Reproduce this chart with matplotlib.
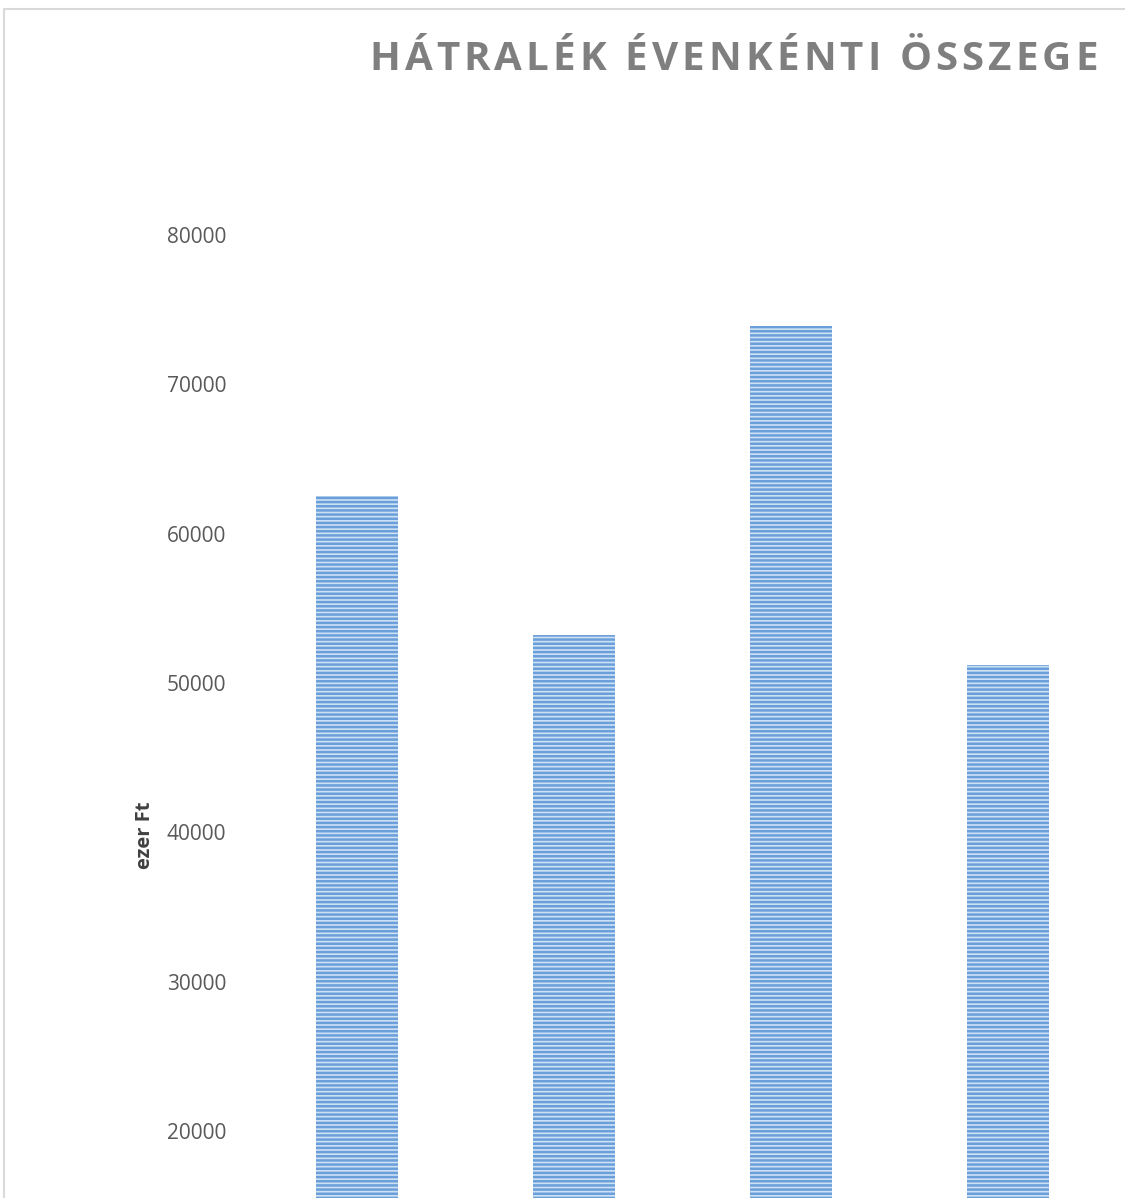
import numpy as np
import matplotlib
import matplotlib.pyplot as plt
from matplotlib.patches import Rectangle

# adatok (a kép alján levágott kategóriák)
kategoriak = ['1', '2', '3', '4']
hatralek = [62500, 53200, 73900, 51200]
y_tickek = [20000, 30000, 40000, 50000, 60000, 70000, 80000]
cim = 'HÁTRALÉK ÉVENKÉNTI ÖSSZEGE'

W, H = 1125, 1198
fig = plt.figure(figsize=(W / 100, H / 100), dpi=100)

# keret a diagram körül
fig.patches.append(Rectangle((4 / W, -0.1), 1.2, 1 - 9 / H + 0.1, transform=fig.transFigure,
                             fill=False, edgecolor='#d9d9d9', linewidth=1.5))

# tengely: 80000 a 235. pixelnél, 20000 az 1131. pixelnél
px_per = (1131 - 235) / 60000
y_top = 235
y_bot_val = 20000 - (H - 1131) / px_per
ax = fig.add_axes([248.5 / W, 0, (1116.5 - 248.5) / W, (H - y_top) / H])
ax.set_ylim(y_bot_val, 80000)
ax.set_xlim(-0.5, 3.5)

matplotlib.rcParams['hatch.linewidth'] = 1.8
x = np.arange(len(kategoriak))
ax.bar(x, hatralek, width=82 / 217, color='#cde1f5', edgecolor='#6b9fd9', linewidth=0, hatch='----')

ax.set_yticks(y_tickek)
ax.set_yticklabels([str(v) for v in y_tickek], fontsize=15, color='#595959', family='Open Sans')
ax.tick_params(axis='y', length=0, pad=16)
ax.set_xticks([])
for s in ax.spines.values():
    s.set_visible(False)

fig.text(145 / W, 1 - 835 / H, 'ezer Ft', rotation=90, ha='center', va='center',
         fontsize=14.5, fontweight='bold', color='#404040', family='Open Sans')

# cím betűközzel: betűnként elhelyezve
renderer = fig.canvas.get_renderer()
betuk = []
for c in cim:
    t = fig.text(0, 1 - 60 / H, c, ha='left', va='center', fontsize=29,
                 fontweight='bold', color='#7f7f7f', family='Open Sans')
    betuk.append(t)
szel = [t.get_window_extent(renderer).width for t in betuk]
bal, jobb = 369, 1098
ritkitas = (jobb - bal - sum(szel)) / (len(cim) - 1)
pos = bal
for t, w in zip(betuk, szel):
    t.set_x(pos / W)
    pos += w + ritkitas

plt.savefig('out.png', dpi=100)
plt.close()
